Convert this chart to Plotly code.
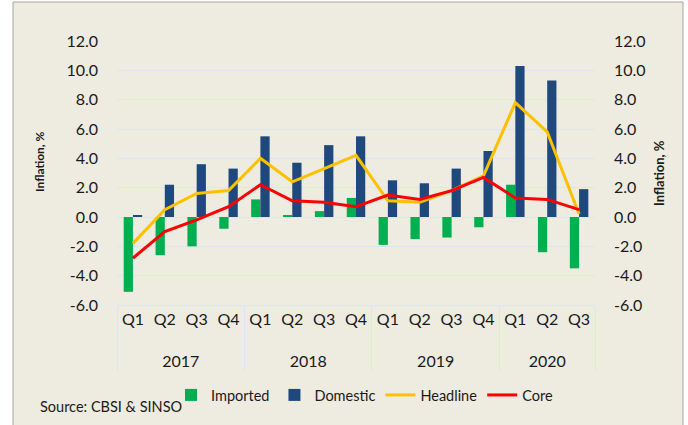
import plotly.graph_objects as go

years = ["2017"] * 4 + ["2018"] * 4 + ["2019"] * 4 + ["2020"] * 3
quarters = ["Q1", "Q2", "Q3", "Q4"] * 3 + ["Q1", "Q2", "Q3"]

imported = [-5.1, -2.6, -2.0, -0.8, 1.2, 0.1, 0.4, 1.3, -1.9, -1.5, -1.4, -0.7, 2.2, -2.4, -3.5]
domestic = [0.1, 2.2, 3.6, 3.3, 5.5, 3.7, 4.9, 5.5, 2.5, 2.3, 3.3, 4.5, 10.3, 9.3, 1.9]
headline = [-1.8, 0.5, 1.6, 1.8, 4.0, 2.4, 3.3, 4.2, 1.1, 1.0, 1.8, 2.8, 7.8, 5.8, 0.2]
core = [-2.8, -1.0, -0.2, 0.7, 2.2, 1.1, 1.0, 0.7, 1.5, 1.2, 1.8, 2.7, 1.3, 1.2, 0.5]

tick_vals = [-6, -4, -2, 0, 2, 4, 6, 8, 10, 12]
tick_text = ["-6.0", "-4.0", "-2.0", "0.0", "2.0", "4.0", "6.0", "8.0", "10.0", "12.0"]

FONT = "Lato"
TXT = "#1a1a1a"
GRID = "#DCE6F2"
# second-level labels pushed down one line to match the reference spacing
x = [["<br>" + y for y in years], quarters]

fig = go.Figure()
fig.add_trace(go.Bar(x=x, y=imported, name="Imported", marker=dict(color="#00B050", line_width=0)))
fig.add_trace(go.Bar(x=x, y=domestic, name="Domestic", marker=dict(color="#1F497D", line_width=0)))
fig.add_trace(go.Scatter(x=x, y=headline, name="Headline", mode="lines",
                         line=dict(color="#FFC000", width=3), yaxis="y2"))
fig.add_trace(go.Scatter(x=x, y=core, name="Core", mode="lines",
                         line=dict(color="#FF0000", width=3), yaxis="y2"))

W, H = 688, 425
L, R, T, B = 117, 93, 41, 120
pw, ph = W - L - R, H - T - B

def px_x(p):
    return (p - L) / pw

def px_y(p):
    return (H - B - p) / ph

axis_common = dict(range=[-6, 12], tickvals=tick_vals, ticktext=tick_text,
                   tickfont=dict(family=FONT, size=16, color=TXT),
                   zeroline=False, ticks="", ticklabelstandoff=18)

fig.update_layout(
    width=W, height=H,
    margin=dict(l=L, r=R, t=T, b=B),
    paper_bgcolor="white",
    plot_bgcolor="rgba(0,0,0,0)",
    barmode="group",
    bargap=0.42,
    bargroupgap=0,
    font=dict(family=FONT, color=TXT),
    xaxis=dict(type="multicategory", showgrid=False, showline=True, linecolor=GRID,
               linewidth=1, tickfont=dict(family=FONT, size=16, color=TXT),
               showdividers=True, dividercolor=GRID, dividerwidth=1, ticks=""),
    yaxis=dict(**axis_common, showgrid=True, gridcolor=GRID, gridwidth=1, showline=False),
    yaxis2=dict(**axis_common, overlaying="y", side="right", showgrid=False, showline=False),
    legend=dict(orientation="h", x=px_x(171), xanchor="left", y=px_y(395), yanchor="middle",
                font=dict(family=FONT, size=14.5, color=TXT), bgcolor="rgba(0,0,0,0)",
                itemwidth=30, traceorder="normal", tracegroupgap=0),
    showlegend=True,
    shapes=[dict(type="rect", xref="paper", yref="paper", layer="below",
                 x0=px_x(13), x1=px_x(683), y0=px_y(440), y1=px_y(2),
                 fillcolor="#EEEBE0", line=dict(color="#A6A6A6", width=1))],
    annotations=[
        dict(text="<b>Inflation, %</b>", xref="paper", yref="paper", x=px_x(39), y=px_y(162),
             textangle=-90, showarrow=False, font=dict(family=FONT, size=12, color=TXT),
             xanchor="center", yanchor="middle"),
        dict(text="<b>Inflation, %</b>", xref="paper", yref="paper", x=px_x(659), y=px_y(173),
             textangle=-90, showarrow=False, font=dict(family=FONT, size=13, color=TXT),
             xanchor="center", yanchor="middle"),
        dict(text="Source: CBSI & SINSO", xref="paper", yref="paper", x=px_x(38), y=px_y(406),
             showarrow=False, font=dict(family=FONT, size=14.5, color=TXT),
             xanchor="left", yanchor="middle"),
    ],
)

fig.write_html("out.html", config={"displayModeBar": False},
               post_script="document.body.style.margin='0';")
